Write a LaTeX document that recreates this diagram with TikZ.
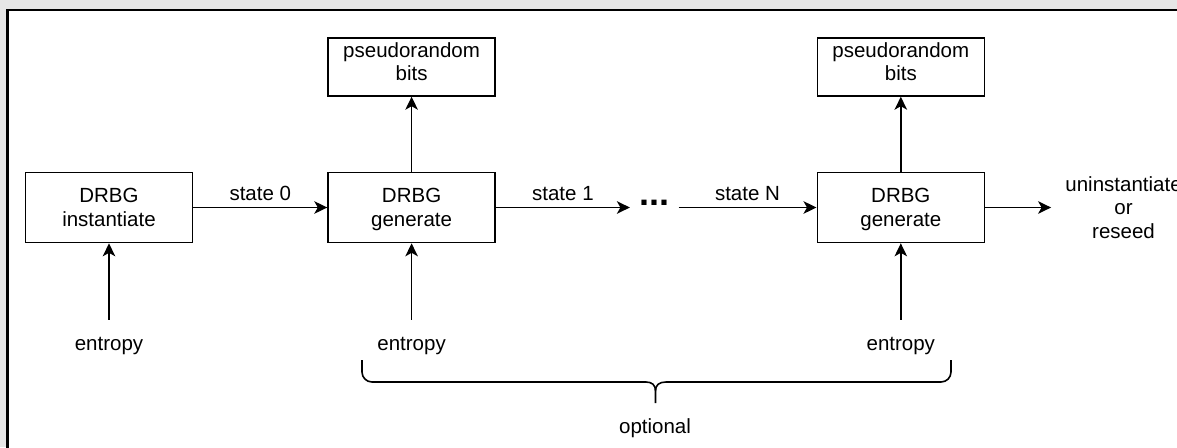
\documentclass[tikz,border=0pt]{standalone}
\usepackage{fontspec}
\setmainfont{Liberation Sans}
\usetikzlibrary{arrows.meta,positioning}
\definecolor{framegray}{RGB}{230,230,230}

\begin{document}
\begin{tikzpicture}[x=1pt, y=-1pt, ->, >={Stealth[length=13pt,width=12.5pt,inset=3.5pt]},
    line width=1.6pt, font=\fontsize{20.5}{23.5}\selectfont, node distance=134pt,
    block/.style={draw, minimum width=167pt, minimum height=70pt, align=center, text depth=0pt, inner sep=0pt},
    bitsblock/.style={block, minimum height=58pt, text depth=10.5pt},
    source/.style={inner ysep=16.5pt}]

    % Frame
    \useasboundingbox (0,0) rectangle (1177,447);
    \fill[framegray] (0,0) rectangle (1177,447);
    \draw[-, line width=2.5pt, fill=white] (7.5,10) rectangle (1200,470);

    % Nodes
    \node[block] (inst) at (109,207.5) {DRBG\\instantiate};
    \node[block, right=of inst] (gen1) {DRBG\\generate};
    \node[right=of gen1, inner xsep=8.5pt, text depth=8.4pt, font=\fontsize{36}{36}\selectfont\bfseries] (dots) {...};
    \node[block, right=138pt of dots] (gen2) {DRBG\\generate};
    \node[right=66pt of gen2, align=center, text depth=0pt, inner xsep=13.5pt] (out) {uninstantiate\\or\\reseed};

    \node[bitsblock, above=75pt of gen1] (bits1) {pseudorandom\\bits};
    \node[bitsblock, above=75pt of gen2] (bits2) {pseudorandom\\bits};

    \node[source, below=76.5pt of inst] (e0) {entropy};
    \node[source, below=76.5pt of gen1] (e1) {entropy};
    \node[source, below=76.5pt of gen2] (e2) {entropy};

    \node (opt) at (655,428) {optional};

    % State transitions
    \draw (inst) -- node[above=3pt] {state 0} (gen1);
    \draw (gen1) -- node[above=3pt] {state 1} (dots);
    \draw (dots) -- node[above=3pt] {state N} (gen2);
    \draw (gen2) -- (out);

    % Outputs and entropy inputs
    \draw (gen1) -- (bits1);
    \draw (gen2) -- (bits2);
    \draw (e0) -- (inst);
    \draw (e1) -- (gen1);
    \draw (e2) -- (gen2);

    % Brace
    \draw[-, rounded corners=10pt] (362,360) -- (362,382) -- (646,382);
    \draw[-, rounded corners=10pt] (951,360) -- (951,382) -- (666,382);
    \draw[-] (646,382) .. controls (652,382) and (655.5,385) .. (655.5,391) -- (655.5,403);
    \draw[-] (666,382) .. controls (659,382) and (655.5,385) .. (655.5,391);

\end{tikzpicture}
\end{document}
